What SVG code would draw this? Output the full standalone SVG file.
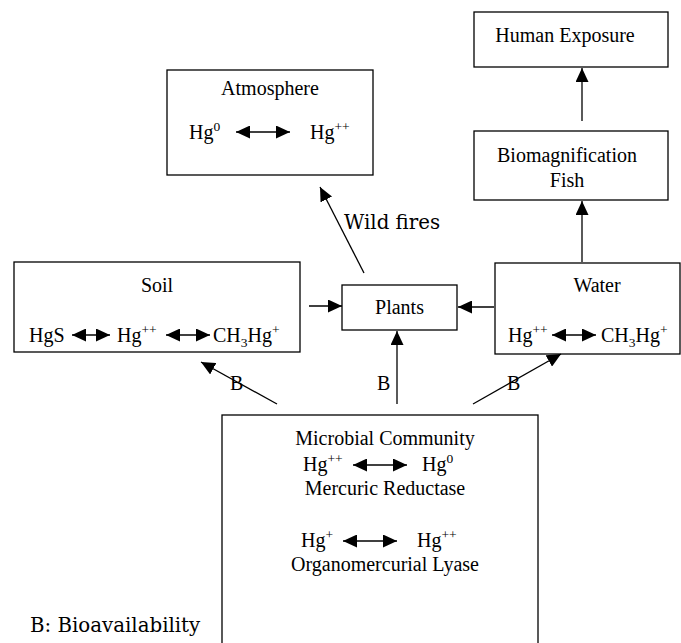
<svg xmlns="http://www.w3.org/2000/svg" width="681" height="643" viewBox="0 0 681 643">
<style>
.box{fill:#fff;stroke:#000;stroke-width:1.3}
.t{font-family:"Liberation Serif","Times New Roman",serif;font-size:20px;fill:#000}
.c{text-anchor:middle}
.w{font-family:"DejaVu Serif","Century Schoolbook",serif;font-size:19.8px;fill:#000}
.ln{stroke:#000;stroke-width:1.3;fill:none}
.sup{font-size:13.5px}
</style>
<defs>
<marker id="ah" viewBox="0 0 14 13" refX="14" refY="6.5" markerWidth="14" markerHeight="13" markerUnits="userSpaceOnUse" orient="auto-start-reverse">
<path d="M0,0 L14,6.5 L0,13 z" fill="#000"/>
</marker>
</defs>
<rect width="681" height="643" fill="#fff"/>

<g id="human">
<rect class="box" x="474" y="12" width="194" height="55"/>
<text class="t c" x="565" y="42">Human Exposure</text>
</g>

<g id="biomag">
<rect class="box" x="474" y="131" width="194" height="69"/>
<text class="t c" x="567" y="162">Biomagnification</text>
<text class="t c" x="567" y="187">Fish</text>
</g>

<g id="atmosphere">
<rect class="box" x="167" y="70" width="206" height="105"/>
<text class="t c" x="270" y="95">Atmosphere</text>
<text class="t" x="189" y="139">Hg<tspan class="sup" dy="-8">0</tspan></text>
<line class="ln" x1="236" y1="132" x2="290" y2="132" marker-start="url(#ah)" marker-end="url(#ah)"/>
<text class="t" x="310" y="139">Hg<tspan class="sup" dy="-8">++</tspan></text>
</g>

<g id="soil">
<rect class="box" x="14" y="262" width="286" height="90"/>
<text class="t c" x="157" y="292">Soil</text>
<text class="t" x="29" y="342">HgS</text>
<line class="ln" x1="72" y1="335" x2="110" y2="335" marker-start="url(#ah)" marker-end="url(#ah)"/>
<text class="t" x="117" y="342">Hg<tspan class="sup" dy="-8">++</tspan></text>
<line class="ln" x1="166" y1="335" x2="210" y2="335" marker-start="url(#ah)" marker-end="url(#ah)"/>
<text class="t" x="213" y="342">CH<tspan class="sup" dy="5">3</tspan><tspan dy="-5">Hg</tspan><tspan class="sup" dy="-8">+</tspan></text>
</g>

<g id="plants">
<rect class="box" x="342" y="285" width="115" height="45"/>
<text class="t c" x="399.5" y="314">Plants</text>
</g>

<g id="water">
<rect class="box" x="495" y="263" width="185" height="91"/>
<text class="t c" x="597" y="292">Water</text>
<text class="t" x="508" y="342">Hg<tspan class="sup" dy="-8">++</tspan></text>
<line class="ln" x1="552" y1="335" x2="596" y2="335" marker-start="url(#ah)" marker-end="url(#ah)"/>
<text class="t" x="601" y="342">CH<tspan class="sup" dy="5">3</tspan><tspan dy="-5">Hg</tspan><tspan class="sup" dy="-8">+</tspan></text>
</g>

<g id="microbial">
<rect class="box" x="222" y="415" width="316" height="240"/>
<text class="t c" x="385" y="445">Microbial Community</text>
<text class="t" x="303" y="471">Hg<tspan class="sup" dy="-8">++</tspan></text>
<line class="ln" x1="353" y1="465" x2="407" y2="465" marker-start="url(#ah)" marker-end="url(#ah)"/>
<text class="t" x="422" y="471">Hg<tspan class="sup" dy="-8">0</tspan></text>
<text class="t c" x="385" y="495">Mercuric Reductase</text>
<text class="t" x="301" y="547">Hg<tspan class="sup" dy="-8">+</tspan></text>
<line class="ln" x1="343" y1="541" x2="397" y2="541" marker-start="url(#ah)" marker-end="url(#ah)"/>
<text class="t" x="417" y="547">Hg<tspan class="sup" dy="-8">++</tspan></text>
<text class="t c" x="385" y="571">Organomercurial Lyase</text>
</g>

<g id="connectors">
<line class="ln" x1="582" y1="121" x2="582" y2="68" marker-end="url(#ah)"/>
<line class="ln" x1="582" y1="262" x2="582" y2="201" marker-end="url(#ah)"/>
<line class="ln" x1="364" y1="273" x2="320" y2="187" marker-end="url(#ah)"/>
<line class="ln" x1="309" y1="306" x2="342" y2="306" marker-end="url(#ah)"/>
<line class="ln" x1="494" y1="307" x2="458" y2="307" marker-end="url(#ah)"/>
<line class="ln" x1="277" y1="404" x2="201" y2="362" marker-end="url(#ah)"/>
<line class="ln" x1="397" y1="404" x2="397" y2="331" marker-end="url(#ah)"/>
<line class="ln" x1="473" y1="404" x2="561" y2="354" marker-end="url(#ah)"/>
</g>

<g id="labels">
<text class="w" x="344" y="229">Wild fires</text>
<text class="t" x="230" y="390">B</text>
<text class="t" x="377" y="390">B</text>
<text class="t" x="507" y="390">B</text>
<text class="w" x="30" y="632">B: Bioavailability</text>
</g>
</svg>
